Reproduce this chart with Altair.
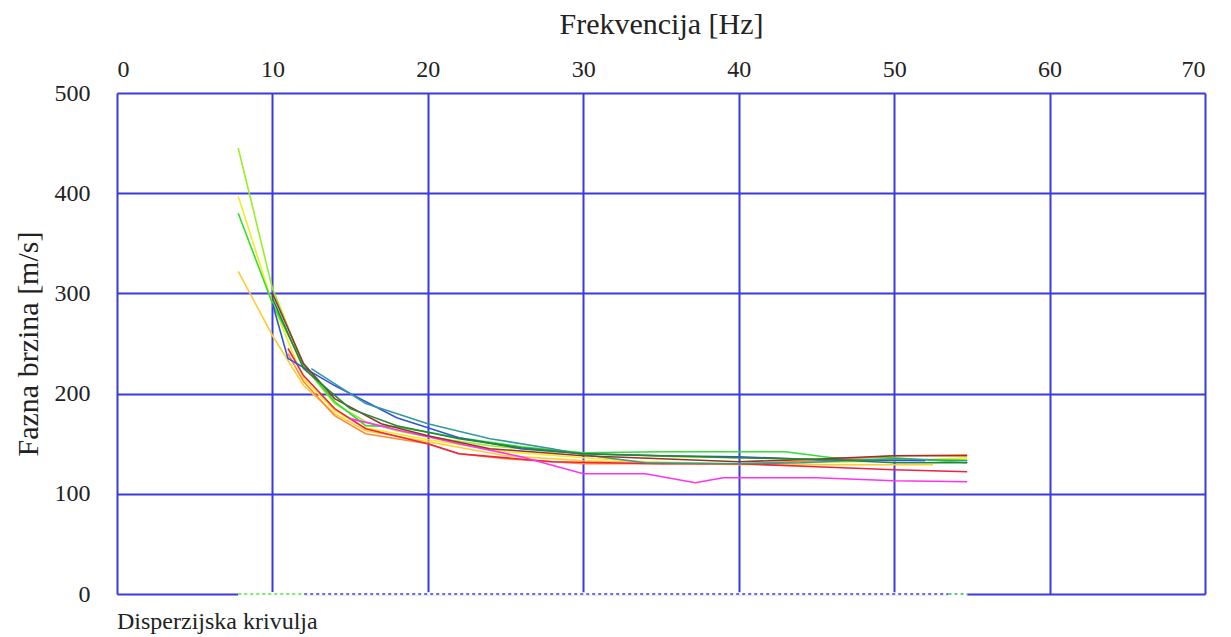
import altair as alt
import pandas as pd

# ---- data ----
s1_x = [7.8, 10, 12, 14, 16, 18, 20, 24, 28, 32, 36, 40, 44, 48, 52, 54.7]
s1_y = [445, 305, 228, 190, 172, 163, 157, 148, 142, 139, 137, 136, 135, 134, 134, 134]
s2_x = [7.8, 10, 12, 14, 16, 20, 25, 30, 34, 40, 45, 50, 54.7]
s2_y = [397, 290, 215, 183, 166, 154, 142, 136, 132, 130, 131, 133, 136]
s3_x = [7.8, 10, 12, 14, 16, 18, 22, 26, 30, 35, 43, 46, 50, 54.7]
s3_y = [380, 290, 228, 192, 168, 167, 156, 147, 141, 142, 142, 136, 136, 131]
s4_x = [7.8, 10, 12, 14, 16, 20, 25, 30, 35, 40, 45, 52.5]
s4_y = [322, 258, 208, 180, 163, 152, 138, 133, 131, 129, 129, 129]
s5_x = [11, 12, 14, 16, 20, 22, 25, 30, 35, 40, 45, 50, 54.7]
s5_y = [240, 212, 178, 160, 150, 140, 135, 130, 130, 130, 133, 138, 139]
s6_x = [11, 12, 14, 16, 20, 22, 28, 35, 40, 45, 50, 54.7]
s6_y = [245, 218, 185, 165, 150, 140, 132, 130, 130, 127, 124, 122]
s7_x = [15, 18, 22, 26, 30, 34, 37.2, 39, 45, 50, 54.7]
s7_y = [175, 164, 150, 137, 120, 120, 111, 116, 116, 113, 112]
s8_x = [10, 11, 14, 18, 22, 26, 30, 35, 40, 45, 52]
s8_y = [290, 235, 208, 176, 156, 145, 140, 138, 137, 134, 133]
s9_x = [12.5, 16, 20, 24, 28, 30, 34, 40, 44, 50, 54.7]
s9_y = [225, 190, 170, 155, 145, 139, 131, 130, 131, 135, 133]
s10_x = [10, 12, 14, 17, 20, 24, 30, 40, 44, 50, 54.7]
s10_y = [300, 230, 195, 170, 158, 145, 138, 132, 134, 138, 138]
s11_x = [10, 12, 15, 18, 22, 26, 30, 40, 46, 50, 54.7]
s11_y = [295, 225, 185, 168, 155, 146, 140, 136, 134, 131, 131]

series_names = ["s1", "s2", "s3", "s4", "s5", "s6", "s7", "s8", "s9", "s10", "s11"]
series_colors = ["#99ee22", "#eeee22", "#33dd33", "#ffcc33", "#ff8833", "#ee2244",
                 "#ff33ee", "#3355dd", "#339999", "#993333", "#228833"]
series_xs = [s1_x, s2_x, s3_x, s4_x, s5_x, s6_x, s7_x, s8_x, s9_x, s10_x, s11_x]
series_ys = [s1_y, s2_y, s3_y, s4_y, s5_y, s6_y, s7_y, s8_y, s9_y, s10_y, s11_y]

# dotted zero-velocity trace along the bottom
zero_x = [7.8, 54.7]
zero_y = [0, 0]
zero_green_a_x = [7.8, 12]
zero_green_b_x = [53.5, 54.7]

x_ticks = [0, 10, 20, 30, 40, 50, 60, 70]
y_ticks = [0, 100, 200, 300, 400, 500]

GRID = "#3a3ae0"
FONT = "'Liberation Serif', 'Times New Roman', 'DejaVu Serif', serif"

rows = []
for name, xs, ys in zip(series_names, series_xs, series_ys):
    for i, (a, b) in enumerate(zip(xs, ys)):
        rows.append({"series": name, "f": a, "v": b, "o": i})
df = pd.DataFrame(rows)

xscale = alt.Scale(domain=[0, 70], nice=False, zero=False)
yscale = alt.Scale(domain=[0, 500], nice=False)

base_x = alt.X("f:Q", scale=xscale,
               axis=alt.Axis(orient="top", values=x_ticks, title="Frekvencija [Hz]",
                             grid=True, gridColor=GRID, gridWidth=2, gridOpacity=1,
                             domain=False, ticks=False, labelPadding=12,
                             labelFont=FONT, labelFontSize=24, labelColor="#222",
                             titleFont=FONT, titleFontSize=30, titleFontWeight="normal",
                             titleColor="#222", titlePadding=18))
base_y = alt.Y("v:Q", scale=yscale,
               axis=alt.Axis(orient="left", values=y_ticks, title="Fazna brzina [m/s]",
                             grid=True, gridColor=GRID, gridWidth=2, gridOpacity=1,
                             domain=False, ticks=False, labelPadding=27,
                             labelFont=FONT, labelFontSize=24, labelColor="#222",
                             titleFont=FONT, titleFontSize=30, titleFontWeight="normal",
                             titleColor="#222", titlePadding=11))

lines = alt.Chart(df).mark_line(strokeWidth=1.6).encode(
    x=base_x,
    y=base_y,
    color=alt.Color("series:N", scale=alt.Scale(domain=series_names, range=series_colors),
                    legend=None),
    order="o:Q",
    detail="series:N",
)

cover_df = pd.DataFrame({"f": zero_x, "v": zero_y})
cover = alt.Chart(cover_df).mark_line(color="white", strokeWidth=3.5).encode(
    x=alt.X("f:Q", scale=xscale), y=alt.Y("v:Q", scale=yscale))
dotted_blue = alt.Chart(cover_df).mark_line(color="#6670e0", strokeWidth=2,
                                            strokeDash=[3, 3]).encode(
    x=alt.X("f:Q", scale=xscale), y=alt.Y("v:Q", scale=yscale))
ga = pd.DataFrame({"f": zero_green_a_x, "v": zero_y})
gb = pd.DataFrame({"f": zero_green_b_x, "v": zero_y})
dotted_ga = alt.Chart(ga).mark_line(color="white", strokeWidth=3.5).encode(
    x=alt.X("f:Q", scale=xscale), y=alt.Y("v:Q", scale=yscale))
dotted_ga2 = alt.Chart(ga).mark_line(color="#77ee66", strokeWidth=2, strokeDash=[3, 3]).encode(
    x=alt.X("f:Q", scale=xscale), y=alt.Y("v:Q", scale=yscale))
dotted_gb = alt.Chart(gb).mark_line(color="white", strokeWidth=3.5).encode(
    x=alt.X("f:Q", scale=xscale), y=alt.Y("v:Q", scale=yscale))
dotted_gb2 = alt.Chart(gb).mark_line(color="#66cc88", strokeWidth=2, strokeDash=[3, 3]).encode(
    x=alt.X("f:Q", scale=xscale), y=alt.Y("v:Q", scale=yscale))

chart = alt.layer(cover, dotted_blue, dotted_ga, dotted_ga2, dotted_gb, dotted_gb2, lines).properties(
    width=1088, height=501,
    padding={"left": 5, "top": 1, "right": 5, "bottom": 0},
    title=alt.TitleParams("Disperzijska krivulja", orient="bottom", anchor="start",
                          frame="group",
                          font=FONT, fontSize=24, fontWeight="normal", color="#222",
                          offset=4),
).configure_view(stroke=None).configure(background="white")

chart.save("out.html", embed_options={"renderer": "svg", "actions": False})
